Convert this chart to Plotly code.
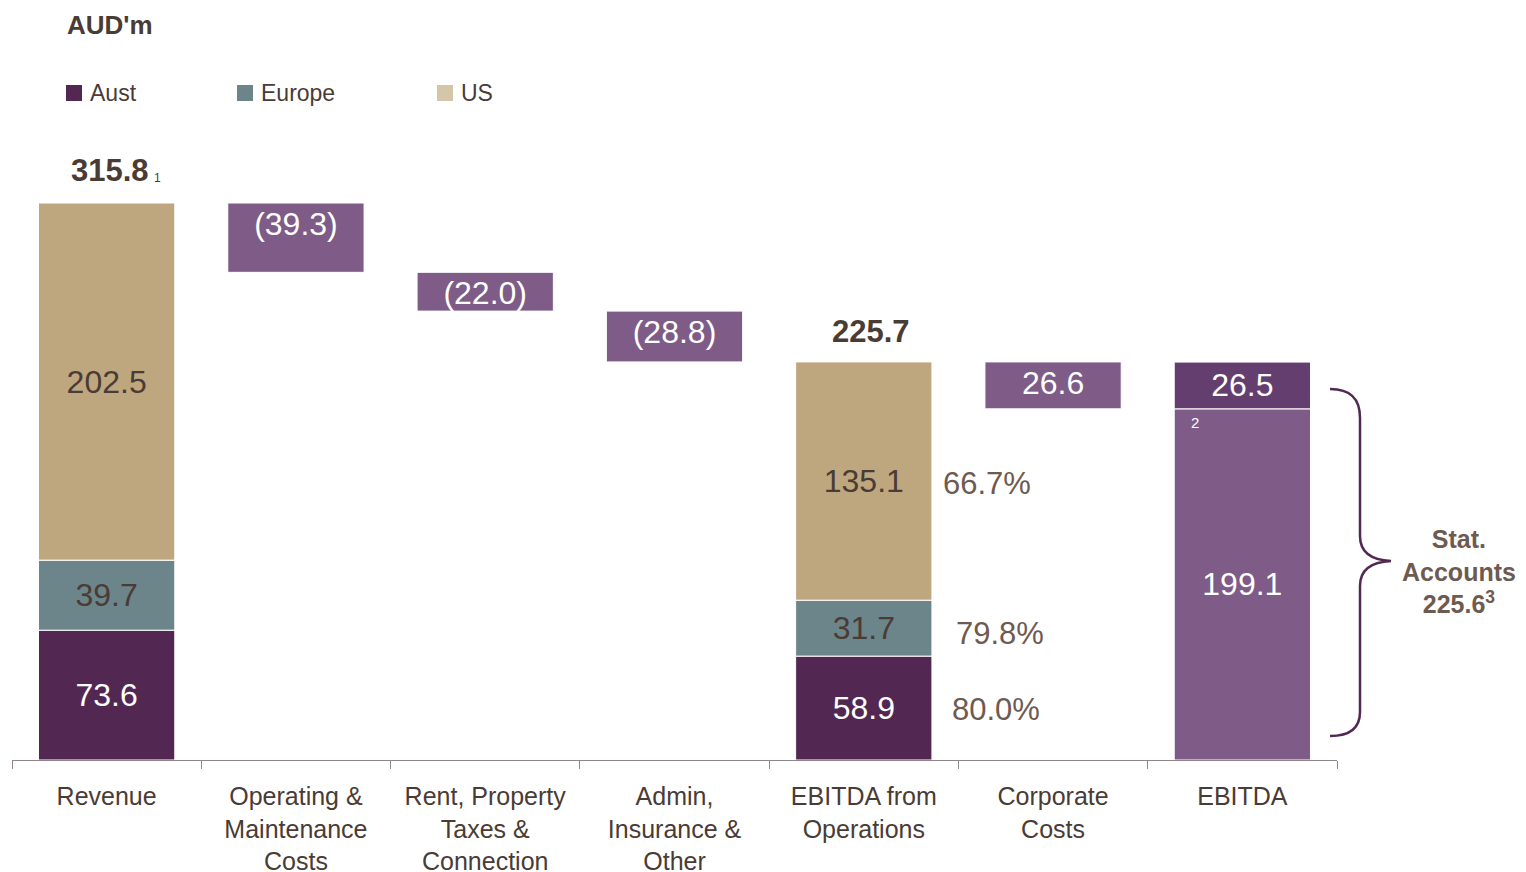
import plotly.graph_objects as go

# ---------------- data ----------------
categories = [
    "Revenue",
    "Operating &<br>Maintenance<br>Costs",
    "Rent, Property<br>Taxes &<br>Connection",
    "Admin,<br>Insurance &<br>Other",
    "EBITDA from<br>Operations",
    "Corporate<br>Costs",
    "EBITDA",
]
stack_cats = [categories[0], categories[4]]
aust_vals = [73.6, 58.9]
europe_vals = [39.7, 31.7]
us_vals = [202.5, 135.1]

cost_cats = [categories[1], categories[2], categories[3], categories[5]]
cost_vals = [39.3, 22.0, 28.8, 26.6]
cost_labels = ["(39.3)", "(22.0)", "(28.8)", "26.6"]

ebitda_cat = [categories[6]]
ebitda_main = [199.1]
ebitda_top = [26.5]

revenue_total = 315.8
ops_total = 225.7
stat_total = 225.6
margin_labels = ["80.0%", "79.8%", "66.7%"]  # Aust, Europe, US

# ---------------- styling ----------------
C_AUST = "#522853"
C_EUR = "#6C858A"
C_US = "#BEA77E"
C_US_LEG = "#D5C6A9"
C_COST = "#7E5C87"
C_TOP = "#633E6E"
C_TXT = "#4A3B35"
C_TXT2 = "#6E5A50"
C_AX = "#8F8787"
FONT = "Liberation Sans, Arial, sans-serif"

OFF = 8  # page body margin
W, H = 1526, 872
BASE_PX = 760  # page y of the axis baseline
L, T = 12 - OFF, 0
R = W - (1337 - OFF)
B = H - (BASE_PX - OFF)
PLOT_H = H - T - B
PX_PER_UNIT = 557 / revenue_total
Y_TOP = PLOT_H / PX_PER_UNIT
BW = 0.72
VAL_SIZE = 32


def px2x(px):
    return (px - OFF - L) / (W - L - R)


def py2y(py):
    return (H - B - (py - OFF)) / PLOT_H


# bases for stacked bars
aust_base = [0 for _ in aust_vals]
eur_base = [a for a in aust_vals]
us_base = [a + e for a, e in zip(aust_vals, europe_vals)]

# waterfall bases for cost bars
cost_bases = []
running = revenue_total
for v in cost_vals[:3]:
    running = running - v
    cost_bases.append(running)
cost_bases.append(ops_total - cost_vals[3])

fig = go.Figure()
common = dict(width=BW, textposition="inside",
              marker_line=dict(color="white", width=1), showlegend=False,
              hoverinfo="skip", constraintext="none")

fig.add_trace(go.Bar(x=stack_cats, y=aust_vals, base=aust_base, name="Aust",
                     marker_color=C_AUST, text=[f"{v:.1f}" for v in aust_vals],
                     insidetextanchor="middle",
                     textfont=dict(color="white", size=VAL_SIZE, family=FONT), **common))
fig.add_trace(go.Bar(x=stack_cats, y=europe_vals, base=eur_base, name="Europe",
                     marker_color=C_EUR, text=[f"{v:.1f}" for v in europe_vals],
                     insidetextanchor="middle",
                     textfont=dict(color=C_TXT, size=VAL_SIZE, family=FONT), **common))
fig.add_trace(go.Bar(x=stack_cats, y=us_vals, base=us_base, name="US",
                     marker_color=C_US, text=[f"{v:.1f}" for v in us_vals],
                     insidetextanchor="middle",
                     textfont=dict(color=C_TXT, size=VAL_SIZE, family=FONT), **common))
fig.add_trace(go.Bar(x=cost_cats, y=cost_vals, base=cost_bases, name="Costs",
                     marker_color=C_COST, text=cost_labels,
                     insidetextanchor="end",
                     textfont=dict(color="white", size=VAL_SIZE, family=FONT), **common))
fig.add_trace(go.Bar(x=ebitda_cat, y=ebitda_main, base=[0], name="EBITDA",
                     marker_color=C_COST, text=[f"{v:.1f}" for v in ebitda_main],
                     insidetextanchor="middle",
                     textfont=dict(color="white", size=VAL_SIZE, family=FONT), **common))
fig.add_trace(go.Bar(x=ebitda_cat, y=ebitda_top, base=ebitda_main, name="Other",
                     marker_color=C_TOP, text=[f"{v:.1f}" for v in ebitda_top],
                     insidetextanchor="middle",
                     textfont=dict(color="white", size=VAL_SIZE, family=FONT), **common))

annotations = []


def ann(text, px, py, size, color=C_TXT, bold=False, xanchor="center", yanchor="middle"):
    annotations.append(dict(
        text=f"<b>{text}</b>" if bold else text, x=px2x(px), y=py2y(py),
        xref="paper", yref="paper", showarrow=False, xanchor=xanchor, yanchor=yanchor,
        font=dict(size=size, color=color, family=FONT)))


ann("AUD'm", 110, 25, 26, bold=True)
# legend (manual)
shapes = []
legend_items = [("Aust", C_AUST, 66), ("Europe", C_EUR, 237), ("US", C_US_LEG, 437)]
for name, col, lx in legend_items:
    shapes.append(dict(type="rect", xref="paper", yref="paper",
                       x0=px2x(lx), x1=px2x(lx + 16), y0=py2y(101), y1=py2y(85),
                       fillcolor=col, line=dict(width=0)))
    ann(name, lx + 22, 93, 23, xanchor="left")

ann(f"{revenue_total:.1f}", 110, 170, 31, bold=True)
ann("1", 157, 178, 12)
ann(f"{ops_total:.1f}", 871, 331, 31, bold=True)
ann("2", 1195, 423, 15, color="white")

# margin percentages
ann(margin_labels[2], 987, 483, 31, color=C_TXT2)
ann(margin_labels[1], 1000, 633, 31, color=C_TXT2)
ann(margin_labels[0], 996, 709, 31, color=C_TXT2)

ann(f"Stat.<br>Accounts<br>{stat_total:.1f}<sup>3</sup>", 1459, 571, 25,
    color=C_TXT2, bold=True)

# curly brace
pts = [
    ("M", [(1330, 389)]),
    ("C", [(1350, 389), (1360, 398), (1360, 418)]),
    ("L", [(1360, 536)]),
    ("C", [(1360, 552), (1370, 560), (1391, 561)]),
    ("C", [(1370, 562), (1360, 570), (1360, 586)]),
    ("L", [(1360, 712)]),
    ("C", [(1360, 728), (1350, 736), (1330, 736)]),
]
path = ""
for cmd, ps in pts:
    path += cmd + " ".join(f"{px2x(a):.5f},{py2y(b):.5f}" for a, b in ps) + " "
shapes.append(dict(type="path", xref="paper", yref="paper", path=path.strip(),
                   line=dict(color=C_AUST, width=2.5)))

fig.update_layout(
    width=W, height=H,
    margin=dict(l=L, r=R, t=T, b=B),
    paper_bgcolor="white", plot_bgcolor="white",
    barmode="overlay",
    font=dict(family=FONT, color=C_TXT),
    annotations=annotations,
    shapes=shapes,
    xaxis=dict(type="category", categoryorder="array", categoryarray=categories,
               range=[-0.5, 6.5], tickson="boundaries", ticks="outside", ticklen=8,
               tickcolor=C_AX, showline=True, linecolor=C_AX, linewidth=1,
               showgrid=False, zeroline=False, fixedrange=True,
               ticklabelstandoff=14,
               tickfont=dict(size=25, color=C_TXT, family=FONT)),
    yaxis=dict(visible=False, range=[0, Y_TOP], fixedrange=True),
)

fig.write_html("out.html")
